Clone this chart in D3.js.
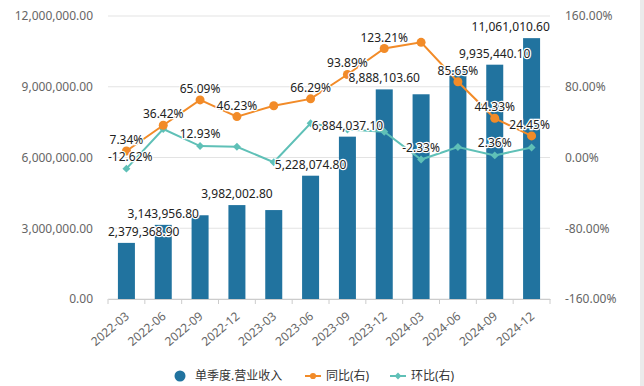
<!DOCTYPE html>
<html>
<head>
<meta charset="utf-8">
<script src="https://cdn.jsdelivr.net/npm/d3@7"></script>
<style>
  body { margin: 0; background: #fff; }
  text { font-family: "Noto Sans", "Noto Sans CJK SC", sans-serif; }
</style>
</head>
<body>
<div id="chart"></div>
<script>
// quarters
var quarters = ["2022-03", "2022-06", "2022-09", "2022-12", "2023-03", "2023-06",
                "2023-09", "2023-12", "2024-03", "2024-06", "2024-09", "2024-12"];
// 单季度.营业收入
var revenue = [2379368.9, 3143956.8, 3550500, 3982002.8, 3771000, 5228074.8,
               6884037.1, 8888103.6, 8681000, 9705900, 9935440.1, 11061010.6];
// 同比 (%)
var yoy = [7.34, 36.42, 65.09, 46.23, 58.5, 66.29, 93.89, 123.21, 130.2, 85.65, 44.33, 24.45];
// 环比 (%)
var qoq = [-12.62, 32.13, 12.93, 12.15, -5.3, 38.64, 31.67, 29.11, -2.33, 11.8, 2.36, 11.33];

// which points get a value label
var showRevLabel = [1, 1, 0, 1, 0, 1, 1, 1, 0, 0, 1, 1];
var showYoyLabel = [1, 1, 1, 1, 0, 1, 1, 1, 0, 1, 1, 1];
var showQoqLabel = [1, 0, 1, 0, 0, 0, 0, 0, 1, 0, 1, 0];

var leftTicks = [0, 3000000, 6000000, 9000000, 12000000];
var rightTicks = [-160, -80, 0, 80, 160];

var width = 644, height = 386;
var margin = {top: 16, right: 94, bottom: 87, left: 108};

var barColor = "#21739f";
var yoyColor = "#f28b28";
var qoqColor = "#5fc0b7";

var svg = d3.select("#chart").append("svg")
    .attr("width", width)
    .attr("height", height);

// right edge strip
svg.append("rect")
    .attr("x", 640).attr("y", 0)
    .attr("width", 4).attr("height", height)
    .attr("fill", "#ebebeb");

var x = d3.scaleBand()
    .domain(quarters)
    .range([margin.left, width - margin.right]);

var yL = d3.scaleLinear()
    .domain([0, 12000000])
    .range([height - margin.bottom, margin.top]);

var yR = d3.scaleLinear()
    .domain([-160, 160])
    .range([height - margin.bottom, margin.top]);

var fmtNum = d3.format(",.2f");
var fmtPct = d => d.toFixed(2) + "%";

/* grid */
svg.append("g")
    .selectAll("line")
    .data(leftTicks).enter()
    .append("line")
    .attr("x1", margin.left)
    .attr("x2", width - margin.right)
    .attr("y1", d => yL(d))
    .attr("y2", d => yL(d))
    .attr("stroke", "#e3e3e3");

/* left axis */
var yAxisL = d3.axisLeft(yL).tickValues(leftTicks).tickFormat(fmtNum).tickSize(0).tickPadding(15);
svg.append("g")
    .attr("transform", `translate(${margin.left}, 0)`)
    .call(yAxisL)
    .call(g => g.select(".domain").remove())
    .selectAll("text")
    .attr("fill", "#666")
    .style("font-size", "12px");

/* right axis */
var yAxisR = d3.axisRight(yR).tickValues(rightTicks).tickFormat(fmtPct).tickSize(0).tickPadding(15);
svg.append("g")
    .attr("transform", `translate(${width - margin.right}, 0)`)
    .call(yAxisR)
    .call(g => g.select(".domain").remove())
    .selectAll("text")
    .attr("fill", "#666")
    .style("font-size", "12px");

/* bars */
var barW = 17;
svg.append("g")
    .selectAll("rect")
    .data(revenue).enter()
    .append("rect")
    .attr("x", (d, i) => x(quarters[i]) + x.bandwidth() / 2 - barW / 2)
    .attr("y", d => yL(d))
    .attr("width", barW)
    .attr("height", d => yL(0) - yL(d))
    .attr("fill", barColor);

/* x axis */
var xAxis = d3.axisBottom(x).tickSize(0);
var gx = svg.append("g")
    .attr("transform", `translate(0, ${height - margin.bottom})`)
    .call(xAxis);
gx.select(".domain").attr("stroke", "#ccc");
gx.selectAll("text")
    .attr("fill", "#666")
    .style("font-size", "12px")
    .attr("text-anchor", "end")
    .attr("dy", "0.35em")
    .attr("transform", "translate(-1, 13) rotate(-40)");
// boundary ticks
var edges = quarters.map(q => x(q)).concat([width - margin.right]);
gx.selectAll(".edge")
    .data(edges).enter()
    .append("line")
    .attr("x1", d => d).attr("x2", d => d)
    .attr("y1", 0).attr("y2", 5)
    .attr("stroke", "#ccc");

/* lines */
var cx = i => x(quarters[i]) + x.bandwidth() / 2;

var lineGen = d3.line()
    .x((d, i) => cx(i))
    .y(d => yR(d));

svg.append("path")
    .datum(qoq)
    .attr("d", lineGen)
    .attr("fill", "none")
    .attr("stroke", qoqColor)
    .attr("stroke-width", 2);

svg.append("g")
    .selectAll("path")
    .data(qoq).enter()
    .append("path")
    .attr("d", d3.symbol(d3.symbolDiamond2, 40)())
    .attr("transform", (d, i) => `translate(${cx(i)}, ${yR(d)})`)
    .attr("fill", qoqColor);

svg.append("path")
    .datum(yoy)
    .attr("d", lineGen)
    .attr("fill", "none")
    .attr("stroke", yoyColor)
    .attr("stroke-width", 2);

svg.append("g")
    .selectAll("circle")
    .data(yoy).enter()
    .append("circle")
    .attr("cx", (d, i) => cx(i))
    .attr("cy", d => yR(d))
    .attr("r", 4.5)
    .attr("fill", yoyColor);

/* labels, kept inside the plot area */
var labelLayer = svg.append("g");
var xMin = margin.left, xMax = width - margin.right;

function addLabels(values, show, yScale, fmt, gap) {
    values.forEach(function(v, i) {
        if (!show[i]) return;
        var t = labelLayer.append("text")
            .attr("x", cx(i))
            .attr("y", yScale(v) - gap)
            .attr("text-anchor", "middle")
            .attr("fill", "#222")
            .attr("stroke", "#fff")
            .attr("stroke-width", 2.5)
            .attr("paint-order", "stroke")
            .style("font-size", "12px")
            .text(fmt(v));
        var bb = t.node().getBBox();
        var shift = 0;
        if (bb.x < xMin) shift = xMin - bb.x;
        if (bb.x + bb.width > xMax) shift = xMax - (bb.x + bb.width);
        t.attr("x", cx(i) + shift);
    });
}

addLabels(revenue, showRevLabel, yL, fmtNum, 7);
addLabels(yoy, showYoyLabel, yR, fmtPct, 7);
addLabels(qoq, showQoqLabel, yR, fmtPct, 8);

/* legend */
var legend = svg.append("g")
    .attr("transform", `translate(0, ${height - 10})`);

legend.append("circle")
    .attr("cx", 180).attr("cy", 0).attr("r", 5.5)
    .attr("fill", barColor);
legend.append("text")
    .attr("x", 195).attr("y", 0).attr("dy", "0.35em")
    .attr("fill", "#333")
    .style("font-size", "12px")
    .text("单季度.营业收入");

[[yoyColor, 305, "同比(右)", "circle"], [qoqColor, 390, "环比(右)", "diamond"]].forEach(function(l) {
    legend.append("line")
        .attr("x1", l[1]).attr("x2", l[1] + 16)
        .attr("y1", 0).attr("y2", 0)
        .attr("stroke", l[0]).attr("stroke-width", 2);
    legend.append("path")
        .attr("d", d3.symbol(l[3] === "circle" ? d3.symbolCircle : d3.symbolDiamond2, 30)())
        .attr("transform", `translate(${l[1] + 8}, 0)`)
        .attr("fill", l[0]);
    legend.append("text")
        .attr("x", l[1] + 21).attr("y", 0).attr("dy", "0.35em")
        .attr("fill", "#333")
        .style("font-size", "12px")
        .text(l[2]);
});
</script>
</body>
</html>
